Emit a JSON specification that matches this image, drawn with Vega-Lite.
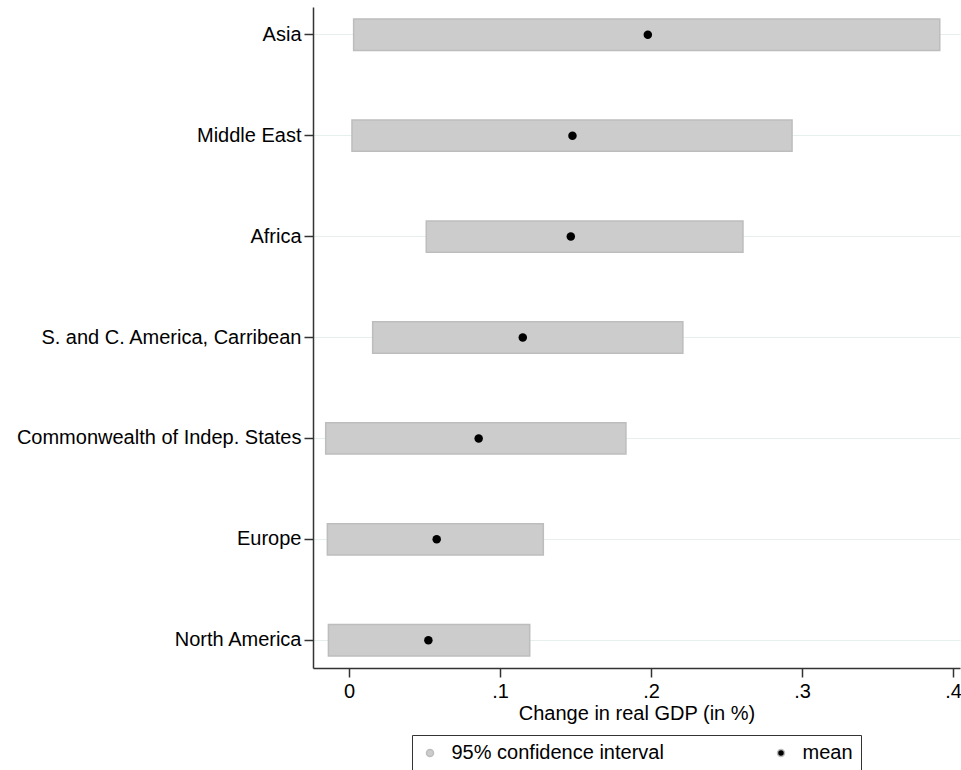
{
  "$schema": "https://vega.github.io/schema/vega-lite/v6.json",
  "width": 647,
  "height": 661,
  "padding": {"left": 16, "top": 7, "right": 0, "bottom": 0},
  "background": "white",
  "config": {"view": {"stroke": null}, "font": "Liberation Sans", "legend": {"layout": {"anchor": "middle"}}},
  "data": {
    "values": [
      {"region": "Asia", "lo": 0.0031, "hi": 0.3912, "mean": 0.1979},
      {"region": "Middle East", "lo": 0.0020, "hi": 0.2934, "mean": 0.1480},
      {"region": "Africa", "lo": 0.0512, "hi": 0.2609, "mean": 0.1469},
      {"region": "S. and C. America, Carribean", "lo": 0.0157, "hi": 0.2211, "mean": 0.1151},
      {"region": "Commonwealth of Indep. States", "lo": -0.0154, "hi": 0.1834, "mean": 0.0859},
      {"region": "Europe", "lo": -0.0143, "hi": 0.1287, "mean": 0.0581},
      {"region": "North America", "lo": -0.0136, "hi": 0.1197, "mean": 0.0526}
    ]
  },
  "encoding": {
    "y": {
      "field": "region",
      "type": "nominal",
      "sort": null,
      "scale": {"paddingInner": 0.69, "paddingOuter": 0.12},
      "axis": {
        "title": null,
        "labelFontSize": 20,
        "labelColor": "#000",
        "labelPadding": 3,
        "labelLimit": 500,
        "tickSize": 9,
        "tickColor": "#333",
        "tickWidth": 1.5,
        "domainColor": "#333",
        "domainWidth": 1.5,
        "grid": true,
        "gridColor": "#e6eeee",
        "gridWidth": 1
      }
    }
  },
  "layer": [
    {
      "mark": {"type": "bar", "stroke": "#bdbdbd", "strokeWidth": 1.5},
      "encoding": {
        "x": {
          "field": "lo",
          "type": "quantitative",
          "scale": {"domain": [-0.0238, 0.4046], "nice": false, "zero": false},
          "axis": {
            "values": [0, 0.1, 0.2, 0.3, 0.4],
            "labelExpr": "datum.value == 0 ? '0' : replace(format(datum.value, '.1f'), '0.', '.')",
            "labelFontSize": 20,
            "labelColor": "#000",
            "labelPadding": 4,
            "tickSize": 9,
            "tickColor": "#333",
            "tickWidth": 1.5,
            "domainColor": "#333",
            "domainWidth": 1.5,
            "grid": false,
            "title": "Change in real GDP (in %)",
            "titleFontSize": 20,
            "titleFontWeight": "normal",
            "titleColor": "#000",
            "titlePadding": 2
          }
        },
        "x2": {"field": "hi"},
        "color": {
          "datum": "95% confidence interval",
          "type": "nominal",
          "scale": {"domain": ["95% confidence interval", "mean"], "range": ["#cccccc", "#000000"]},
          "legend": {
            "orient": "bottom",
            "direction": "horizontal",
            "title": null,
            "labelFontSize": 20,
            "labelColor": "#000",
            "labelLimit": 400,
            "symbolSize": 49,
            "strokeColor": "#333",
            "padding": 8,
            "columnPadding": 107,
            "labelOffset": 11.5,
            "offset": 12
          }
        }
      }
    },
    {
      "mark": {"type": "point", "filled": true, "size": 72, "opacity": 1},
      "encoding": {
        "x": {"field": "mean", "type": "quantitative"},
        "color": {"datum": "mean", "type": "nominal"}
      }
    }
  ]
}
